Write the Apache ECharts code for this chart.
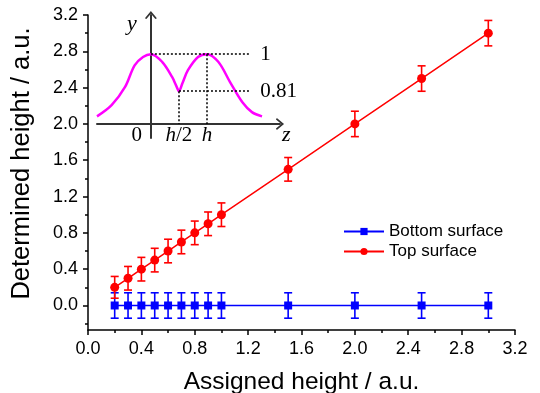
<!DOCTYPE html>
<html>
<head>
<meta charset="utf-8">
<script src="https://cdn.jsdelivr.net/npm/echarts@6/dist/echarts.min.js"></script>
<style>
  html, body { margin: 0; padding: 0; background: #fff; }
  #chart { width: 540px; height: 393px; }
</style>
</head>
<body>
<div id="chart"></div>
<script>
// main data
var assigned = [0.2, 0.3, 0.4, 0.5, 0.6, 0.7, 0.8, 0.9, 1.0, 1.5, 2.0, 2.5, 3.0];
var bottomVals = [0, 0, 0, 0, 0, 0, 0, 0, 0, 0, 0, 0, 0];
var topVals = [0.2, 0.3, 0.4, 0.5, 0.6, 0.7, 0.8, 0.9, 1.0, 1.5, 2.0, 2.5, 3.0];
var bottomErr = [0.14, 0.14, 0.14, 0.14, 0.14, 0.14, 0.14, 0.14, 0.14, 0.14, 0.14, 0.14, 0.14];
var topErr = [0.12, 0.13, 0.13, 0.13, 0.13, 0.13, 0.13, 0.13, 0.13, 0.13, 0.14, 0.14, 0.14];
var yMajor = [0, 0.4, 0.8, 1.2, 1.6, 2.0, 2.4, 2.8, 3.2];
var yMinor = [-0.2, 0.2, 0.6, 1.0, 1.4, 1.8, 2.2, 2.6, 3.0];

// inset sketch (schematic curve)
var insetZ = [-0.96, -0.7, -0.46, -0.29, -0.14, 0, 0.2, 0.38, 0.45, 0.5, 0.56, 0.66, 0.84, 1.0, 1.2, 1.41, 1.63, 1.8, 1.98];
var insetY = [0.11, 0.27, 0.53, 0.84, 0.96, 1.0, 0.89, 0.67, 0.55, 0.47, 0.58, 0.77, 0.96, 1.0, 0.89, 0.6, 0.31, 0.17, 0.11];
var insetTicks = [-0.25, 0.5, 1];
var insetTickLabels = ['0', '{i|h}/2', '{i|h}'];
var peakZ = 0, peak2Z = 1, peakY = 1, dipZ = 0.5, dipY = 0.47, guideEnd = 1.77;
var guideLabels = ['1', '0.81'];

function pairs(xs, ys) {
  return xs.map(function (x, i) { return [x, ys[i]]; });
}
function errData(ys, es) {
  return assigned.map(function (x, i) { return [x, ys[i] - es[i], ys[i] + es[i]]; });
}
function errRender(color) {
  return function (params, api) {
    var x = api.value(0);
    var p1 = api.coord([x, api.value(2)]);
    var p2 = api.coord([x, api.value(1)]);
    var w = 4;
    var st = { stroke: color, lineWidth: 1.6 };
    return {
      type: 'group',
      children: [
        { type: 'line', shape: { x1: p1[0], y1: p1[1], x2: p2[0], y2: p2[1] }, style: st },
        { type: 'line', shape: { x1: p1[0] - w, y1: p1[1], x2: p1[0] + w, y2: p1[1] }, style: st },
        { type: 'line', shape: { x1: p2[0] - w, y1: p2[1], x2: p2[0] + w, y2: p2[1] }, style: st }
      ]
    };
  };
}

var chevron = 'path://M0,12 L10,0 L20,12 L17.5,13.5 L10,4.5 L2.5,13.5 Z';
var serif = '"Liberation Serif", "DejaVu Serif", serif';
var sans = '"Liberation Sans", Arial, sans-serif';

var myChart = echarts.init(document.getElementById('chart'));

var option = {
  animation: false,
  textStyle: { fontFamily: sans },
  grid: [
    { left: 88, right: 25, top: 15, bottom: 63, outerBoundsMode: 'none' },
    { left: 97, top: 15, width: 183, height: 123, outerBoundsMode: 'none' }
  ],
  legend: {
    data: ['Bottom surface', 'Top surface'],
    orient: 'vertical',
    left: 338,
    top: 218,
    itemWidth: 40,
    itemHeight: 9,
    itemGap: 3,
    textStyle: { fontSize: 17, color: '#000', fontFamily: sans }
  },
  xAxis: [
    {
      type: 'value',
      gridIndex: 0,
      min: 0,
      max: 3.2,
      interval: 0.4,
      name: 'Assigned height / a.u.',
      nameLocation: 'middle',
      nameGap: 40,
      nameTextStyle: { fontSize: 24.5, color: '#000', fontFamily: sans },
      axisLine: { onZero: false, lineStyle: { color: '#000', width: 1.5 } },
      axisTick: { length: 5, lineStyle: { width: 1.5 } },
      minorTick: { show: true, splitNumber: 2, length: 3, lineStyle: { color: '#000', width: 1.5 } },
      axisLabel: {
        fontSize: 18, color: '#000', margin: 10,
        formatter: function (v) { return v.toFixed(1); }
      },
      splitLine: { show: false }
    },
    {
      type: 'value',
      gridIndex: 1,
      min: -0.96,
      max: 2.3,
      name: 'z',
      nameLocation: 'end',
      nameGap: 2,
      nameTextStyle: { fontSize: 22, fontStyle: 'italic', fontFamily: serif, color: '#000', verticalAlign: 'top', align: 'left' },
      axisLine: { onZero: true, symbol: ['none', chevron], symbolSize: [12, 9], lineStyle: { color: '#333', width: 2 } },
      axisTick: { show: false },
      axisLabel: {
        customValues: insetTicks,
        margin: -13,
        fontSize: 21,
        fontFamily: serif,
        color: '#000',
        formatter: function (v) {
          return insetTickLabels[insetTicks.indexOf(v)];
        },
        rich: { i: { fontStyle: 'italic', fontSize: 21, fontFamily: serif, color: '#000' } }
      },
      splitLine: { show: false }
    }
  ],
  yAxis: [
    {
      type: 'value',
      gridIndex: 0,
      position: 'left',
      min: -0.27,
      max: 3.2,
      name: 'Determined height / a.u.',
      nameLocation: 'middle',
      nameGap: 53,
      nameTextStyle: { fontSize: 25.5, color: '#000', fontFamily: sans, padding: [0, 0, 0, 18] },
      axisLine: { lineStyle: { color: '#000', width: 1.5 } },
      axisTick: { length: 5, customValues: yMajor, lineStyle: { width: 1.5 } },
      axisLabel: {
        customValues: yMajor,
        fontSize: 18, color: '#000', margin: 10,
        formatter: function (v) { return v.toFixed(1); }
      },
      splitLine: { show: false }
    },
    {
      type: 'value',
      gridIndex: 0,
      position: 'left',
      offset: 0,
      min: -0.27,
      max: 3.2,
      axisLine: { show: false },
      axisTick: { length: 3, customValues: yMinor, lineStyle: { color: '#000', width: 1.5 } },
      axisLabel: { show: false },
      splitLine: { show: false }
    },
    {
      type: 'value',
      gridIndex: 1,
      min: -0.2,
      max: 1.56,
      name: 'y',
      nameLocation: 'end',
      nameGap: 2,
      nameTextStyle: { fontSize: 22, fontStyle: 'italic', fontFamily: serif, color: '#000', align: 'right', verticalAlign: 'top', padding: [0, 14, 0, 0] },
      axisLine: { onZero: true, symbol: ['none', chevron], symbolSize: [12, 9], lineStyle: { color: '#333', width: 2 } },
      axisTick: { show: false },
      axisLabel: { show: false },
      splitLine: { show: false }
    }
  ],
  series: [
    {
      type: 'custom',
      xAxisIndex: 0, yAxisIndex: 0,
      renderItem: errRender('#0000ff'),
      encode: { x: 0, y: [1, 2] },
      data: errData(bottomVals, bottomErr),
      z: 2
    },
    {
      type: 'custom',
      xAxisIndex: 0, yAxisIndex: 0,
      renderItem: errRender('#ff0000'),
      encode: { x: 0, y: [1, 2] },
      data: errData(topVals, topErr),
      z: 2
    },
    {
      name: 'Bottom surface',
      type: 'line',
      xAxisIndex: 0, yAxisIndex: 0,
      data: pairs(assigned, bottomVals),
      color: '#0000ff',
      symbol: 'rect',
      symbolSize: 8,
      lineStyle: { width: 1.5 },
      z: 3
    },
    {
      name: 'Top surface',
      type: 'line',
      xAxisIndex: 0, yAxisIndex: 0,
      data: pairs(assigned, topVals),
      color: '#ff0000',
      symbol: 'circle',
      symbolSize: 9,
      lineStyle: { width: 1.5 },
      z: 3
    },
    {
      type: 'line',
      xAxisIndex: 1, yAxisIndex: 2,
      data: pairs(insetZ, insetY),
      smooth: 0.35,
      symbol: 'none',
      color: '#ff00ff',
      lineStyle: { width: 2.5 },
      silent: true,
      markLine: {
        silent: true,
        symbol: 'none',
        lineStyle: { color: '#000', type: [2, 2], width: 1.5 },
        label: { show: false },
        data: [
          [{ coord: [peakZ, peakY] }, { coord: [guideEnd, peakY], label: { show: true, position: 'end', formatter: guideLabels[0], distance: 10, fontSize: 21, fontFamily: serif, color: '#000' } }],
          [{ coord: [dipZ, dipY] }, { coord: [guideEnd, dipY], label: { show: true, position: 'end', formatter: guideLabels[1], distance: 10, fontSize: 21, fontFamily: serif, color: '#000' } }],
          [{ coord: [dipZ, dipY] }, { coord: [dipZ, 0] }],
          [{ coord: [peak2Z, peakY] }, { coord: [peak2Z, 0] }]
        ]
      }
    }
  ]
};

myChart.setOption(option);
</script>
</body>
</html>
